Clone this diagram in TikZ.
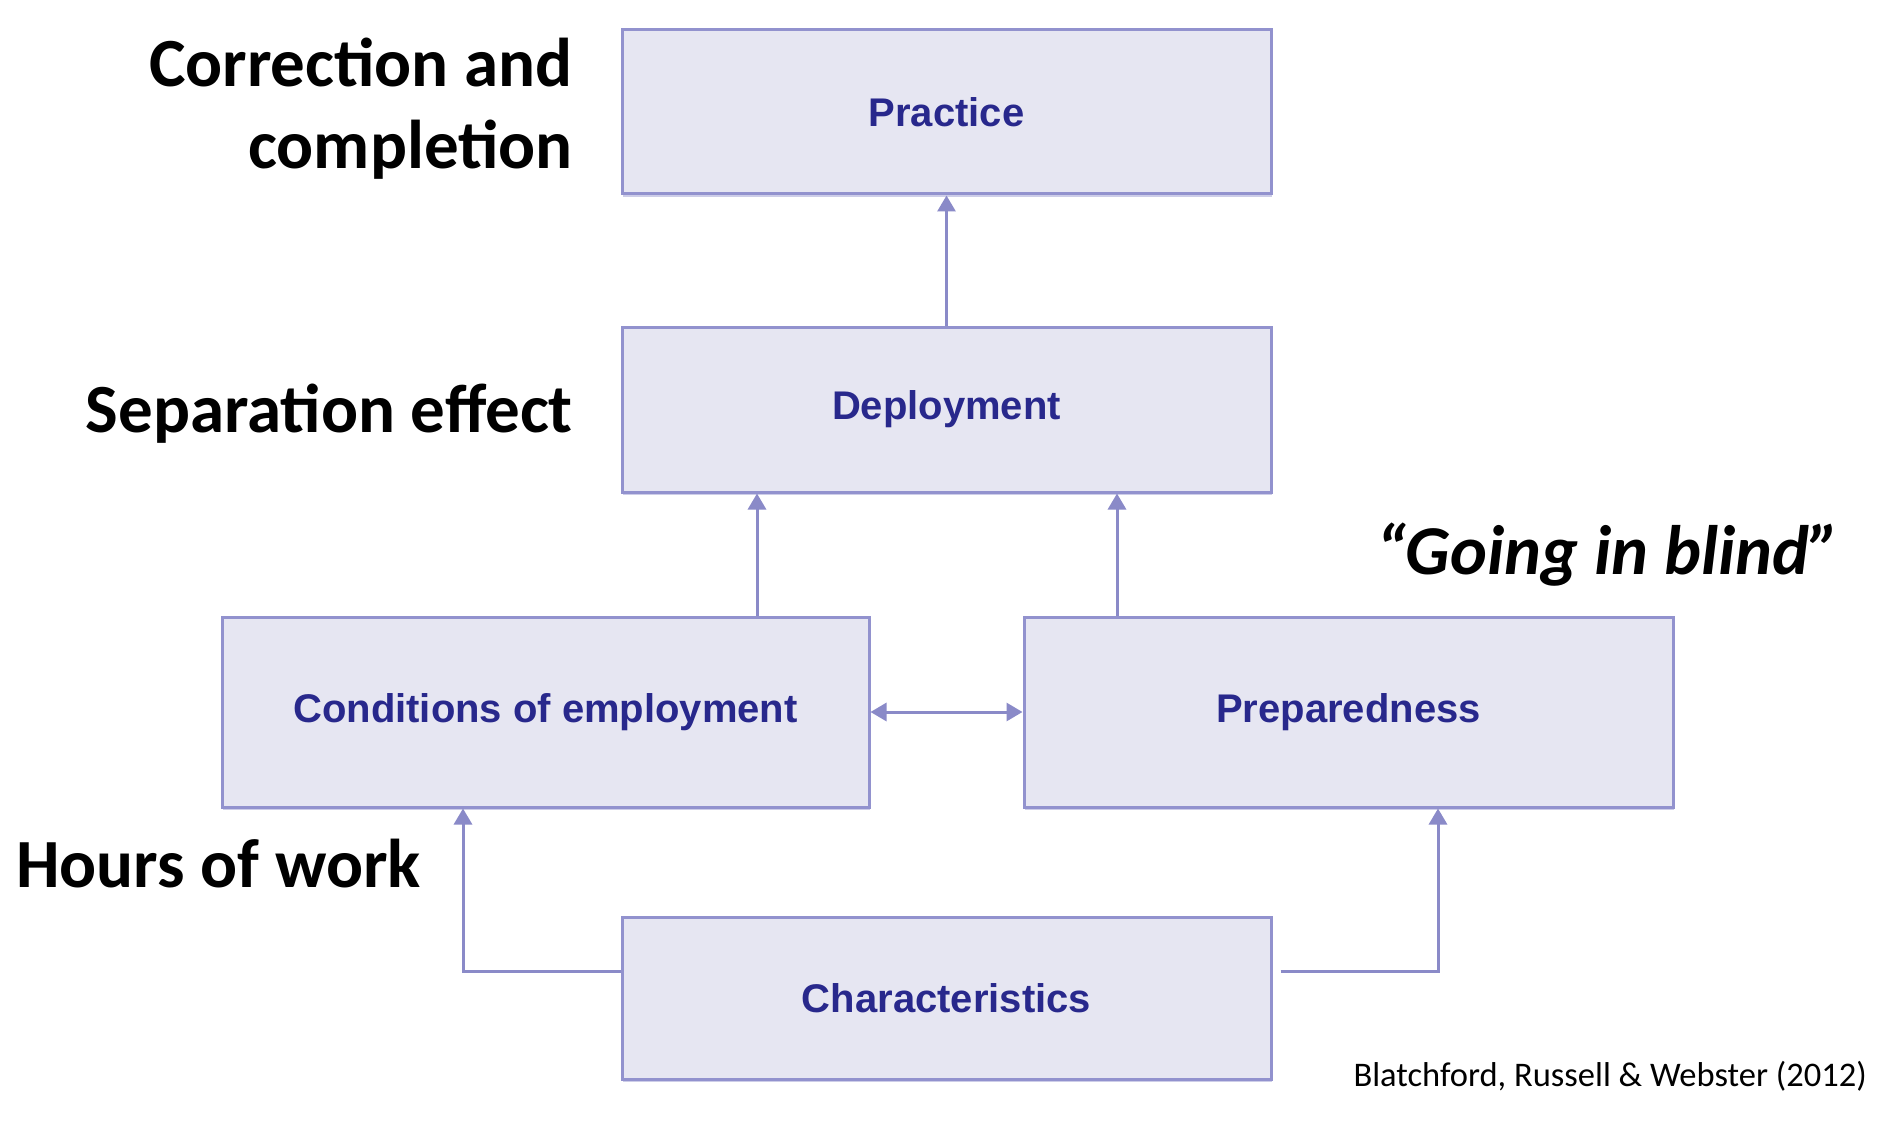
\documentclass[tikz,border=0pt]{standalone}
\usepackage{fontspec}
\setmainfont{Carlito}
\newfontfamily\boxfont{Liberation Sans}
\usetikzlibrary{arrows.meta,shadows}
\definecolor{boxfill}{RGB}{230,230,242}
\definecolor{boxline}{RGB}{146,146,206}
\definecolor{boxtext}{RGB}{40,40,140}
\definecolor{arrcol}{RGB}{138,138,200}
\begin{document}
\begin{tikzpicture}[x=1pt,y=-1pt,
  stagebox/.style={draw=boxline, line width=3pt, fill=boxfill, minimum width=649pt,
    inner sep=0pt, font=\boxfont\bfseries\fontsize{40}{44}\selectfont, text=boxtext,
    drop shadow={shadow xshift=1pt, shadow yshift=-3pt, fill=boxline, opacity=0.45}},
  arr/.style={draw=arrcol, line width=3pt, -{Triangle[length=16pt,width=18pt]}},
  darr/.style={draw=arrcol, line width=3pt, {Triangle[length=16pt,width=18pt]}-{Triangle[length=16pt,width=18pt]}},
  note/.style={font=\bfseries\fontsize{69}{82}\selectfont, text=black, inner sep=0pt}
]
\useasboundingbox[fill=white] (0,0) rectangle (1880,1134);

\node[stagebox, minimum height=164pt] (prac) at (946.5,112) {Practice};
\node[stagebox, minimum height=165pt] (dep) at (946.5,409.5) {Deployment};
\node[stagebox, minimum width=647pt, minimum height=190pt] (cond) at (545.5,712) {Conditions of employment};
\node[stagebox, minimum height=190pt] (prep) at (1348.5,712) {Preparedness};
\node[stagebox, minimum height=162pt] (char) at (946.5,998) {Characteristics};

\draw[arr] (dep.north) -- (prac.south);
\draw[arr] (757,0 |- cond.north) -- (757,0 |- dep.south);
\draw[arr] (1117,0 |- prep.north) -- (1117,0 |- dep.south);
\draw[darr] (cond.east) -- (prep.west);
\draw[arr] ([yshift=27pt]char.west) -| ([xshift=-82.5pt]cond.south);
\draw[arr] ([xshift=8pt,yshift=27pt]char.east) -| ([xshift=89.5pt]prep.south);

\node[note, align=right, anchor=east] (corr) at (573,109) {Correction and\\completion};
\node[note, anchor=east] (sep) at (573,414) {Separation effect};
\node[note, anchor=west] (hours) at (16,864) {Hours of work};
\node[note, anchor=east, font=\bfseries\itshape\fontsize{70}{82}\selectfont] (blind) at (1840,555) {“Going in blind”};
\node[anchor=east, inner sep=0pt, font=\fontsize{34.5}{40}\selectfont] (cite) at (1867,1076) {Blatchford, Russell \& Webster (2012)};
\end{tikzpicture}
\end{document}
